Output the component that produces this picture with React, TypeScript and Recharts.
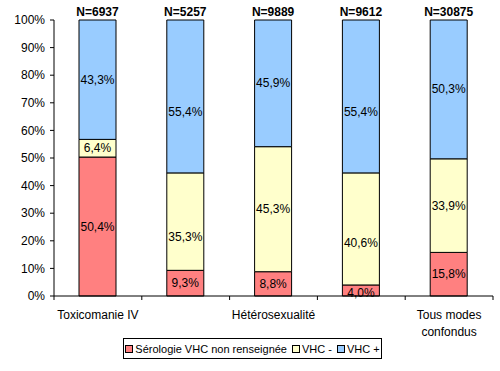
import { BarChart, Bar, XAxis, YAxis, LabelList } from "recharts";

const categories = ["Toxicomanie IV", "", "Hétérosexualité", "", "Tous modes confondus"];
const totals = ["N=6937", "N=5257", "N=9889", "N=9612", "N=30875"];
const nonRenseignee = [50.4, 9.3, 8.8, 4.0, 15.8];
const vhcNeg = [6.4, 35.3, 45.3, 40.6, 33.9];
const vhcPos = [43.3, 55.4, 45.9, 55.4, 50.3];
const yTicks = [0, 0.1, 0.2, 0.3, 0.4, 0.5, 0.6, 0.7, 0.8, 0.9, 1];

const series = [
    { key: "nr", name: "Sérologie VHC non renseignée", color: "#FF8080" },
    { key: "neg", name: "VHC -", color: "#FFFFCC" },
    { key: "pos", name: "VHC +", color: "#99CCFF" },
];

// labels that were nudged down by hand in the original sheet (px, per bar)
const labelNudge: Record<string, number[]> = {
    nr: [0, 0, 0, 3, 0],
    neg: [0, 15, 0, 14, 0],
    pos: [0, 16, 0, 16, 0],
};

const data = categories.map((cat, i) => ({
    cat,
    n: totals[i],
    nr: nonRenseignee[i],
    neg: vhcNeg[i],
    pos: vhcPos[i],
}));

const FONT = "'Liberation Sans', Arial, sans-serif";
const HALF_BAND = 43.9;

const pct = (v: unknown) => `${Number(v).toFixed(1).replace(".", ",")}%`;

// long labels (3+ words) go on two lines, like Excel wraps them
function splitLabel(label: string): string[] {
    const words = label.split(" ");
    if (words.length <= 2) return [label];
    return [words.slice(0, 2).join(" "), words.slice(2).join(" ")];
}

interface TickProps {
    x?: number;
    y?: number;
    index?: number;
    payload?: { value: string };
}

function CategoryTick({ x = 0, y = 0, index = 0, payload }: TickProps) {
    const lines = splitLabel(payload?.value ?? "");
    return (
        <g>
            <line x1={x + HALF_BAND} x2={x + HALF_BAND} y1={y} y2={y + 4} stroke="#000" />
            {index === 0 && (
                <line x1={x - HALF_BAND} x2={x - HALF_BAND} y1={y} y2={y + 4} stroke="#000" />
            )}
            <text x={x} y={y + 23} textAnchor="middle" fontSize={12} fontFamily={FONT} fill="#000">
                {lines.map((line, i) => (
                    <tspan key={i} x={x} dy={i === 0 ? 0 : 17}>
                        {line}
                    </tspan>
                ))}
            </text>
        </g>
    );
}

function segmentLabel(key: string) {
    return (props: any) => {
        const { x = 0, y = 0, width = 0, height = 0, value, index = 0 } = props;
        const dy = labelNudge[key]?.[index] ?? 0;
        return (
            <text
                x={Number(x) + Number(width) / 2}
                y={Number(y) + Number(height) / 2 + dy}
                textAnchor="middle"
                dominantBaseline="central"
                fontSize={12}
                fontFamily={FONT}
                fill="#000"
            >
                {pct(value)}
            </text>
        );
    };
}

export default function App() {
    return (
        <div
            style={{
                position: "absolute",
                left: 0,
                top: 0,
                width: 500,
                height: 371,
                background: "#fff",
                fontFamily: FONT,
            }}
        >
            <BarChart
                width={500}
                height={371}
                data={data}
                stackOffset="expand"
                barSize={37}
                margin={{ top: 20, right: 7, bottom: 33, left: 0 }}
            >
                <XAxis
                    dataKey="cat"
                    height={42}
                    axisLine={{ stroke: "#000" }}
                    tickLine={false}
                    tickSize={0}
                    tickMargin={0}
                    interval={0}
                    tick={<CategoryTick />}
                />
                <YAxis
                    width={54}
                    domain={[0, 1]}
                    ticks={yTicks}
                    axisLine={{ stroke: "#000" }}
                    tickLine={{ stroke: "#000" }}
                    tickSize={4}
                    tickMargin={5}
                    tick={{ fontSize: 12, fill: "#000", fontFamily: FONT }}
                    tickFormatter={(v: number) => `${Math.round(v * 100)}%`}
                />
                {series.map((s) => (
                    <Bar
                        key={s.key}
                        dataKey={s.key}
                        name={s.name}
                        stackId="a"
                        fill={s.color}
                        stroke="#000"
                        strokeWidth={1}
                        isAnimationActive={false}
                    >
                        <LabelList dataKey={s.key} content={segmentLabel(s.key)} />
                        {s.key === "pos" && (
                            <LabelList
                                dataKey="n"
                                position="top"
                                offset={4}
                                fontSize={12}
                                fontWeight="bold"
                                fontFamily={FONT}
                                fill="#000"
                            />
                        )}
                    </Bar>
                ))}
            </BarChart>
            <div
                style={{
                    position: "absolute",
                    left: 123,
                    top: 338,
                    width: 259,
                    height: 21,
                    border: "1px solid #000",
                    display: "flex",
                    alignItems: "center",
                    justifyContent: "center",
                    gap: 5,
                    fontSize: 11,
                    whiteSpace: "nowrap",
                    boxSizing: "border-box",
                }}
            >
                {series.map((s) => (
                    <span
                        key={s.key}
                        style={{ display: "flex", alignItems: "center", gap: 2, flexShrink: 0 }}
                    >
                        <span
                            style={{
                                width: 6,
                                height: 6,
                                background: s.color,
                                border: "1px solid #000",
                                display: "inline-block",
                            }}
                        />
                        {s.name}
                    </span>
                ))}
            </div>
        </div>
    );
}
